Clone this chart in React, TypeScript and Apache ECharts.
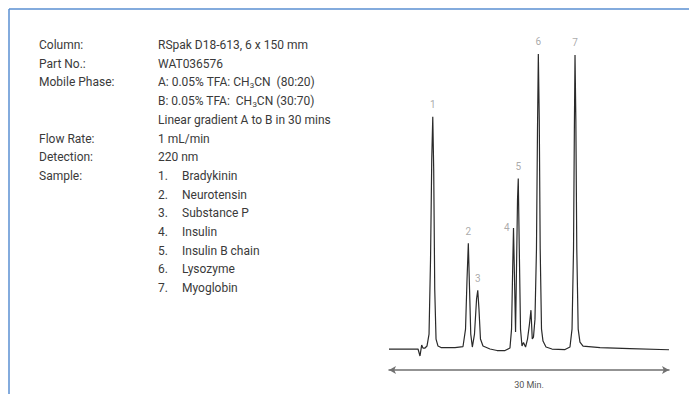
import React, { useEffect, useRef } from "react";
import * as echarts from "echarts";

// Chromatogram trace: retention time (min) and detector signal (arbitrary units)
const traceTime = [
  0, 1.71, 3.11, 3.32, 3.5, 3.64, 3.86, 4.07, 4.29, 4.45, 4.58, 4.69, 4.79, 4.9, 5.04, 5.25, 5.57,
  7.07, 7.93, 8.2, 8.36, 8.5, 8.63, 8.76, 8.93, 9.16, 9.38, 9.51, 9.64, 9.8, 10.07, 10.82, 11.57,
  12.43, 12.96, 13.13, 13.25, 13.34, 13.47, 13.56, 13.66, 13.77, 13.85, 13.96, 14.09, 14.25, 14.41,
  14.63, 14.84, 15.05, 15.21, 15.35, 15.48, 15.64, 15.8, 15.91, 16.0, 16.1, 16.2, 16.34, 16.5, 16.82,
  17.46, 18.86, 19.39, 19.61, 19.77, 19.86, 19.93, 20.02, 20.12, 20.27, 20.46, 20.79, 22.61, 25.82, 30.0,
];
const traceSignal = [
  0, 0, 0, -7, 4, 1, 1, 3, 15, 90, 190, 233, 180, 60, 10, 3, 1.5,
  1.5, 2.5, 20, 70, 106, 60, 15, 2, 15, 50, 59, 40, 10, 3, 0, -1.5,
  -1.5, 1, 20, 80, 121.5, 60, 17, 80, 150, 171, 100, 20, 3, 6.5,
  2, 10, 25, 39, 10, 12, 30, 100, 220, 296, 230, 100, 20, 8, 2,
  0, -0.5, 2, 20, 100, 220, 295, 230, 100, 20, 7, 3, 1.5, 0.5, -0.7,
];

// Peak apexes
const peakNames = ["1", "2", "3", "4", "5", "6", "7"];
const peakTimes = [4.69, 8.5, 9.51, 13.34, 13.85, 16.0, 19.93];
const peakHeights = [233, 106, 59, 121.5, 171, 296, 295];

// Method text
const paramLabels = [
  "Column:", "Part No.:", "Mobile Phase:", "", "", "Flow Rate:", "Detection:", "Sample:",
];
const paramValues = [
  "RSpak D18-613, 6 x 150 mm",
  "WAT036576",
  "{a|A: 0.05% TFA: CH}{s|3}{a|CN  (80:20)}",
  "{a|B: 0.05% TFA:  CH}{s|3}{a|CN (30:70)}",
  "Linear gradient A to B in 30 mins",
  "1 mL/min",
  "220 nm",
  "",
];
const sampleNames = [
  "Bradykinin", "Neurotensin", "Substance P", "Insulin", "Insulin B chain", "Lysozyme", "Myoglobin",
];
const axisName = "30 Min.";

const FONT = "Roboto";
const TEXT_COLOR = "#3a3a3a";
const FRAME = "#5a8fd2";
const LABEL_GRAY = "#959595";

export default function App() {
  const ref = useRef<HTMLDivElement>(null);
  useEffect(() => {
    document.body.style.margin = "0";
    if (!ref.current) return;
    const chart = echarts.init(ref.current, undefined, { renderer: "svg" });

    const rowY0 = 45;
    const rowStep = 18.7;
    const graphics: any[] = [
      { type: "line", shape: { x1: 9, y1: 9, x2: 689, y2: 9 }, style: { stroke: FRAME, lineWidth: 1.5 } },
      { type: "line", shape: { x1: 9, y1: 9, x2: 9, y2: 394 }, style: { stroke: FRAME, lineWidth: 1.5 } },
    ];
    const rich = {
      a: { fontFamily: FONT, fontSize: 12, fill: TEXT_COLOR, lineHeight: 14 },
      s: { fontFamily: FONT, fontSize: 8, fill: TEXT_COLOR, lineHeight: 14, verticalAlign: "bottom", padding: [5, 0, 0, 0] },
    };
    paramLabels.forEach((t, i) => {
      if (!t) return;
      graphics.push({
        type: "text", x: 39, y: rowY0 + i * rowStep,
        style: { text: t, fontFamily: FONT, fontSize: 12, fill: TEXT_COLOR, verticalAlign: "middle" },
      });
    });
    paramValues.forEach((t, i) => {
      if (!t) return;
      graphics.push({
        type: "text", x: 158, y: rowY0 + i * rowStep,
        style: { text: t, rich, fontFamily: FONT, fontSize: 12, fill: TEXT_COLOR, verticalAlign: "middle" },
      });
    });
    sampleNames.forEach((t, i) => {
      const y = rowY0 + (7 + i) * rowStep;
      graphics.push({
        type: "text", x: 158, y,
        style: { text: `${i + 1}.`, fontFamily: FONT, fontSize: 12, fill: TEXT_COLOR, verticalAlign: "middle" },
      });
      graphics.push({
        type: "text", x: 182, y,
        style: { text: t, fontFamily: FONT, fontSize: 12, fill: TEXT_COLOR, verticalAlign: "middle" },
      });
    });

    const traceData = traceTime.map((t, i) => [t, traceSignal[i]]);
    const labelBase = {
      show: true, position: "top", distance: 7,
      fontFamily: FONT, fontSize: 10, fontWeight: "normal", color: LABEL_GRAY,
    };
    const peakData = peakTimes.map((t, i) => ({
      value: [t, peakHeights[i]],
      name: peakNames[i],
      label: peakNames[i] === "4"
        ? { ...labelBase, position: "left", distance: 4 }
        : { ...labelBase },
    }));

    chart.setOption({
      animation: false,
      grid: { left: 389, width: 280, top: 40, height: 320 },
      xAxis: {
        type: "value", min: 0, max: 30, offset: 11,
        axisLine: {
          show: true, onZero: false, symbol: ["arrow", "arrow"], symbolSize: [6, 7],
          lineStyle: { color: "#707070", width: 1.5 },
        },
        axisTick: { show: false }, axisLabel: { show: false }, splitLine: { show: false },
        name: axisName, nameLocation: "middle", nameGap: 10,
        nameTextStyle: { fontFamily: FONT, fontSize: 9, color: "#555" },
      },
      yAxis: { type: "value", min: -10, max: 310, show: false },
      series: [
        {
          type: "line", data: traceData, symbol: "none", smooth: false,
          lineStyle: { color: "#2a2a2a", width: 1.2 },
        },
        {
          type: "scatter", data: peakData, symbolSize: 0,
          itemStyle: { color: LABEL_GRAY },
          label: { ...labelBase, formatter: (p: any) => p.name },
        },
      ],
      graphic: graphics,
    });
    return () => chart.dispose();
  }, []);
  return <div ref={ref} style={{ width: 689, height: 394 }} />;
}
